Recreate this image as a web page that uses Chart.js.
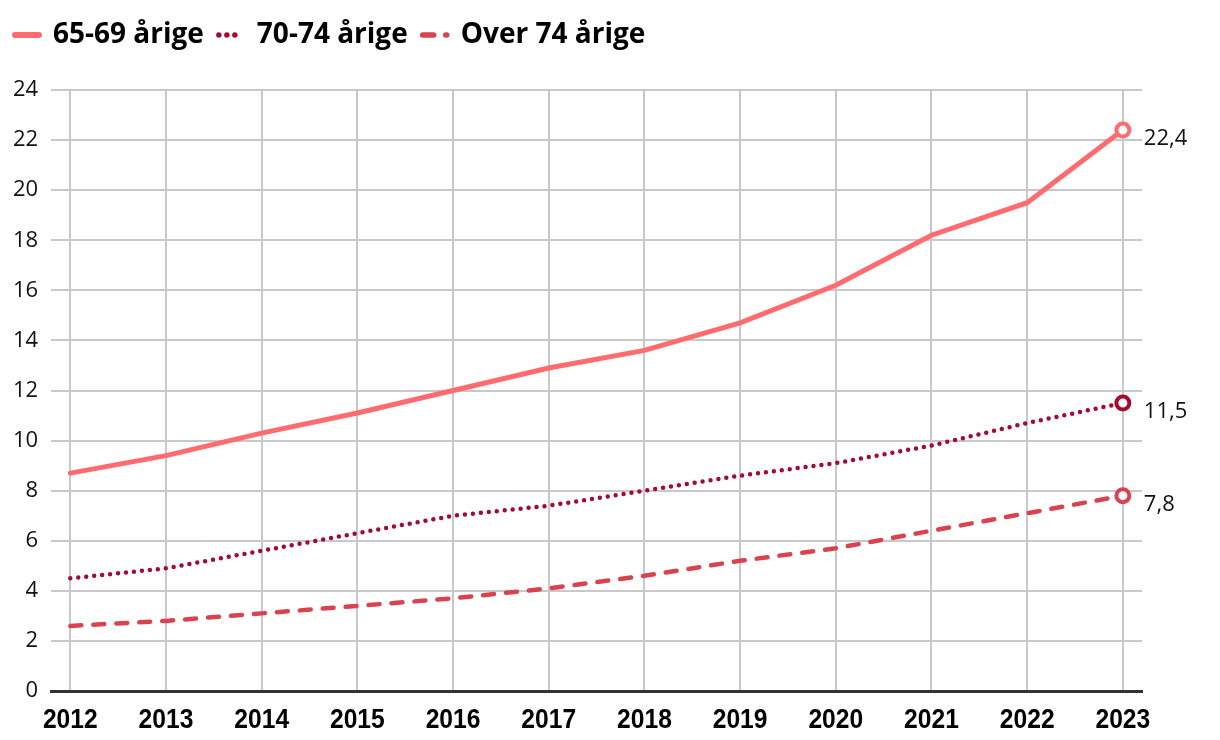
<!DOCTYPE html>
<html>
<head>
<meta charset="utf-8">
<script src="https://cdn.jsdelivr.net/npm/chart.js@4/dist/chart.umd.min.js"></script>
<style>
  html, body { margin: 0; padding: 0; background: #fff; }
  #wrap { width: 1220px; height: 740px; }
</style>
</head>
<body>
<div id="wrap"><canvas id="chart"></canvas></div>
<script>
// data
const years = [2012, 2013, 2014, 2015, 2016, 2017, 2018, 2019, 2020, 2021, 2022, 2023];
const age6569 = [8.7, 9.4, 10.3, 11.1, 12.0, 12.9, 13.6, 14.7, 16.2, 18.2, 19.5, 22.4];
const age7074 = [4.5, 4.9, 5.6, 6.3, 7.0, 7.4, 8.0, 8.6, 9.1, 9.8, 10.7, 11.5];
const ageOver74 = [2.6, 2.8, 3.1, 3.4, 3.7, 4.1, 4.6, 5.2, 5.7, 6.4, 7.1, 7.8];
const seriesNames = ['65-69 årige', '70-74 årige', 'Over 74 årige'];
const yTicks = [0, 2, 4, 6, 8, 10, 12, 14, 16, 18, 20, 22, 24];

const lastIdx = years.length - 1;
function toPoints(vals) {
  return years.map((y, i) => ({ x: y, y: vals[i] }));
}
function endPoint(ctx) {
  return ctx.dataIndex === lastIdx ? 6.5 : 0;
}

// write the last value next to the end point of every line
const endLabels = {
  id: 'endLabels',
  afterDatasetsDraw(chart) {
    const c = chart.ctx;
    c.save();
    c.font = '22px "Open Sans"';
    c.fillStyle = '#111';
    c.textAlign = 'left';
    c.textBaseline = 'middle';
    chart.data.datasets.forEach((ds, i) => {
      const pt = chart.getDatasetMeta(i).data[lastIdx];
      const v = ds.data[lastIdx].y;
      c.fillText(v.toFixed(1).replace('.', ','), pt.x + 21, pt.y + 9);
    });
    c.restore();
  }
};

// year labels in a narrow bold face (squeezed Liberation Sans)
const narrowYears = {
  id: 'narrowYears',
  afterDraw(chart) {
    const c = chart.ctx;
    const xs = chart.scales.x;
    c.save();
    c.font = 'bold 28px "Liberation Sans", Arial';
    c.fillStyle = '#000';
    c.textAlign = 'center';
    c.textBaseline = 'middle';
    years.forEach((yr) => {
      c.save();
      c.translate(xs.getPixelForValue(yr), chart.chartArea.bottom + 29);
      c.scale(0.88, 1);
      c.fillText(String(yr), 0, 0);
      c.restore();
    });
    c.restore();
  }
};

// extra room under the legend
const legendRoom = {
  id: 'legendRoom',
  beforeInit(chart) {
    const fit = chart.legend.fit;
    chart.legend.fit = function () {
      fit.bind(chart.legend)();
      this.height += 31;
    };
  }
};

const ctx = document.getElementById('chart').getContext('2d');
const myChart = new Chart(ctx, {
  type: 'line',
  data: {
    datasets: [
      {
        label: seriesNames[0],
        data: toPoints(age6569),
        borderColor: '#ff6b6e',
        backgroundColor: '#ffffff',
        borderWidth: 5,
        borderCapStyle: 'round',
        pointRadius: endPoint,
        pointBorderWidth: 4,
        pointBackgroundColor: '#ffffff',
        pointBorderColor: '#ff6b6e'
      },
      {
        label: seriesNames[1],
        data: toPoints(age7074),
        borderColor: '#a50a31',
        backgroundColor: '#ffffff',
        borderWidth: 4.5,
        borderDash: [0, 8],
        borderCapStyle: 'round',
        pointRadius: endPoint,
        pointBorderWidth: 4,
        pointBackgroundColor: '#ffffff',
        pointBorderColor: '#a50a31'
      },
      {
        label: seriesNames[2],
        data: toPoints(ageOver74),
        borderColor: '#d9434f',
        backgroundColor: '#ffffff',
        borderWidth: 4.5,
        borderDash: [11, 12],
        borderCapStyle: 'round',
        pointRadius: endPoint,
        pointBorderWidth: 4,
        pointBackgroundColor: '#ffffff',
        pointBorderColor: '#d9434f'
      }
    ]
  },
  options: {
    responsive: true,
    maintainAspectRatio: false,
    animation: false,
    layout: { padding: { left: 0, right: 78, top: 6, bottom: 1 } },
    plugins: {
      tooltip: { enabled: false },
      title: { display: false },
      legend: {
        display: true,
        position: 'top',
        align: 'start',
        labels: {
          usePointStyle: true,
          pointStyle: 'line',
          pointStyleWidth: 24,
          padding: 15,
          color: '#000',
          font: { family: '"Open Sans"', size: 28, weight: 'bold' },
          generateLabels(chart) {
            return chart.data.datasets.map((ds, i) => ({
              text: ds.label,
              datasetIndex: i,
              hidden: !chart.isDatasetVisible(i),
              fillStyle: ds.borderColor,
              strokeStyle: ds.borderColor,
              fontColor: '#000',
              lineWidth: i === 0 ? 6 : 5.5,
              lineDash: ds.borderDash || [],
              lineCap: 'round',
              pointStyle: 'line'
            }));
          }
        }
      }
    },
    scales: {
      x: {
        type: 'linear',
        min: 2011.8,
        max: 2023.2,
        afterBuildTicks: (scale) => { scale.ticks = years.map(v => ({ value: v })); },
        grid: { color: '#c8c8c8', lineWidth: 2, drawTicks: false },
        border: { display: true, color: '#333', width: 3 },
        ticks: {
          padding: 12,
          color: 'rgba(0,0,0,0)',
          autoSkip: false,
          maxRotation: 0,
          font: { family: '"Liberation Sans"', size: 20, weight: 'bold' },
          callback: (v) => String(v)
        }
      },
      y: {
        min: 0,
        max: 24,
        afterBuildTicks: (scale) => { scale.ticks = yTicks.map(v => ({ value: v })); },
        grid: { color: '#c8c8c8', lineWidth: 2, drawTicks: false },
        border: { display: false },
        ticks: {
          padding: 13,
          color: '#111',
          font: { family: '"Open Sans"', size: 22 }
        }
      }
    }
  },
  plugins: [endLabels, narrowYears, legendRoom]
});
</script>
</body>
</html>
